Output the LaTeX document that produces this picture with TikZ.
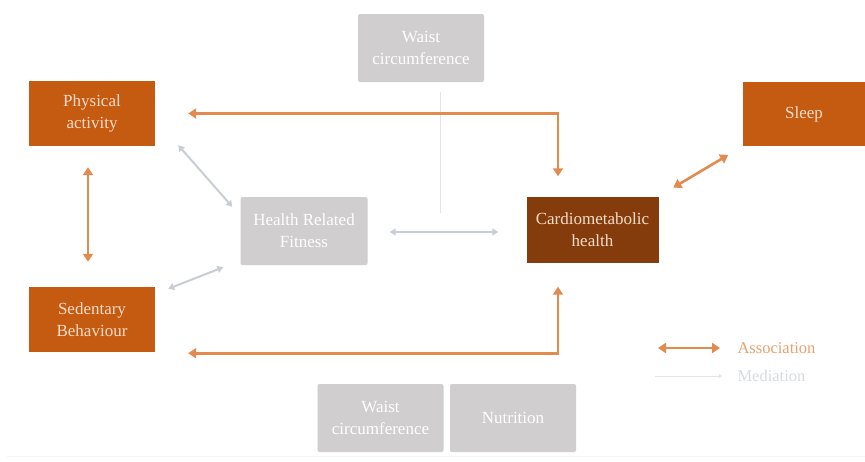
\documentclass[tikz,border=0pt]{standalone}
\usepackage{fontspec}
\setmainfont{Liberation Serif}
\usetikzlibrary{arrows.meta}
\definecolor{boxorange}{HTML}{C55A11}
\definecolor{boxbrown}{HTML}{843C0C}
\definecolor{boxgray}{HTML}{D0CECE}
\definecolor{assocline}{HTML}{E38A4E}
\definecolor{fitline}{HTML}{C9CED4}
\definecolor{medline}{HTML}{E2E5E8}
\definecolor{paletext}{HTML}{F6DDC9}
\begin{document}
\begin{tikzpicture}[x=1pt,y=-1pt,
  box/.style={rectangle, minimum width=126pt, minimum height=65pt, align=center,
    font=\fontsize{17}{22}\selectfont, inner sep=2pt},
  factor/.style={box, fill=boxorange, text=paletext},
  outcome/.style={box, fill=boxbrown, text=paletext},
  greybox/.style={box, fill=boxgray, text=white, rounded corners=2pt, minimum height=68pt},
  assoc/.style={draw=assocline, line width=2.6pt,
    {Triangle[width=10pt,length=8pt]}-{Triangle[width=10pt,length=8pt]}},
  fitness/.style={draw=fitline, line width=2pt,
    {Triangle[width=7pt,length=6pt]}-{Triangle[width=7pt,length=6pt]}},
  mediation/.style={draw=medline, line width=0.8pt},
  legendtext/.style={anchor=west, font=\fontsize{16.5}{20}\selectfont}
]
\useasboundingbox (0,0) rectangle (865,461);
\fill[white] (0,0) rectangle (865,461);

% boxes
\node[greybox] (wtop) at (421,48) {Waist\\circumference};
\node[factor] (pa) at (92,113.5) {Physical\\activity};
\node[factor, minimum width=122pt, minimum height=64pt] (sleep) at (804,114) {Sleep};
\node[greybox, minimum width=127pt] (hrf) at (304,231) {Health Related\\Fitness};
\node[outcome, minimum width=132pt, minimum height=66pt] (cmh) at (592.5,229.5) {Cardiometabolic\\health};
\node[factor] (sb) at (92,319.5) {Sedentary\\Behaviour};
\node[greybox] (wbot) at (380.5,418) {Waist\\circumference};
\node[greybox] (nut) at (513,418) {Nutrition};

% helper coordinates
\coordinate (jx) at (558,0);
\coordinate (medend) at (440,213);

% mediation through waist circumference
\draw[mediation] ([xshift=19pt]wtop.south) ++(0,10) -- (medend);

% associations
\draw[assoc, shorten <=33pt, shorten >=20pt] (pa.east) -| (cmh.north -| jx);
\draw[assoc, shorten <=33pt, shorten >=24pt] ([yshift=-1pt]sb.south east) -| (cmh.south -| jx);
\draw[assoc, shorten <=21pt, shorten >=25pt] ([xshift=-4pt]pa.south) -- ([xshift=-4pt]sb.north);
\draw[assoc, shorten <=17pt, shorten >=17pt] (cmh.north east) -- (sleep.south west);

% health related fitness links
\draw[fitness] ([shift={(23pt,1pt)}]pa.south east) -- ([shift={(-8pt,-10pt)}]hrf.north west);
\draw[fitness] ([shift={(13pt,-2pt)}]sb.north east) -- ([shift={(-17pt,-2pt)}]hrf.south west);
\draw[fitness, shorten <=22pt, shorten >=28pt] ([yshift=-1pt]hrf.east) -- ([yshift=-1pt]hrf.east -| cmh.west);

% legend
\coordinate (la1) at (658,348);
\coordinate (la2) at (720,348);
\coordinate (lm1) at (655,376);
\coordinate (lm2) at (722,376);
\draw[assoc, line width=2.4pt] (la1) -- (la2);
\node[legendtext, text=assocline!80] (lassoc) at (734,348) {Association};
\draw[mediation, -{Triangle[width=4pt,length=3pt]}] (lm1) -- (lm2);
\node[legendtext, text=medline!90!gray] (lmed) at (734,376) {Mediation};

% base rule
\draw[gray!8, line width=1pt] (7,456) -- (865,456);
\end{tikzpicture}
\end{document}
